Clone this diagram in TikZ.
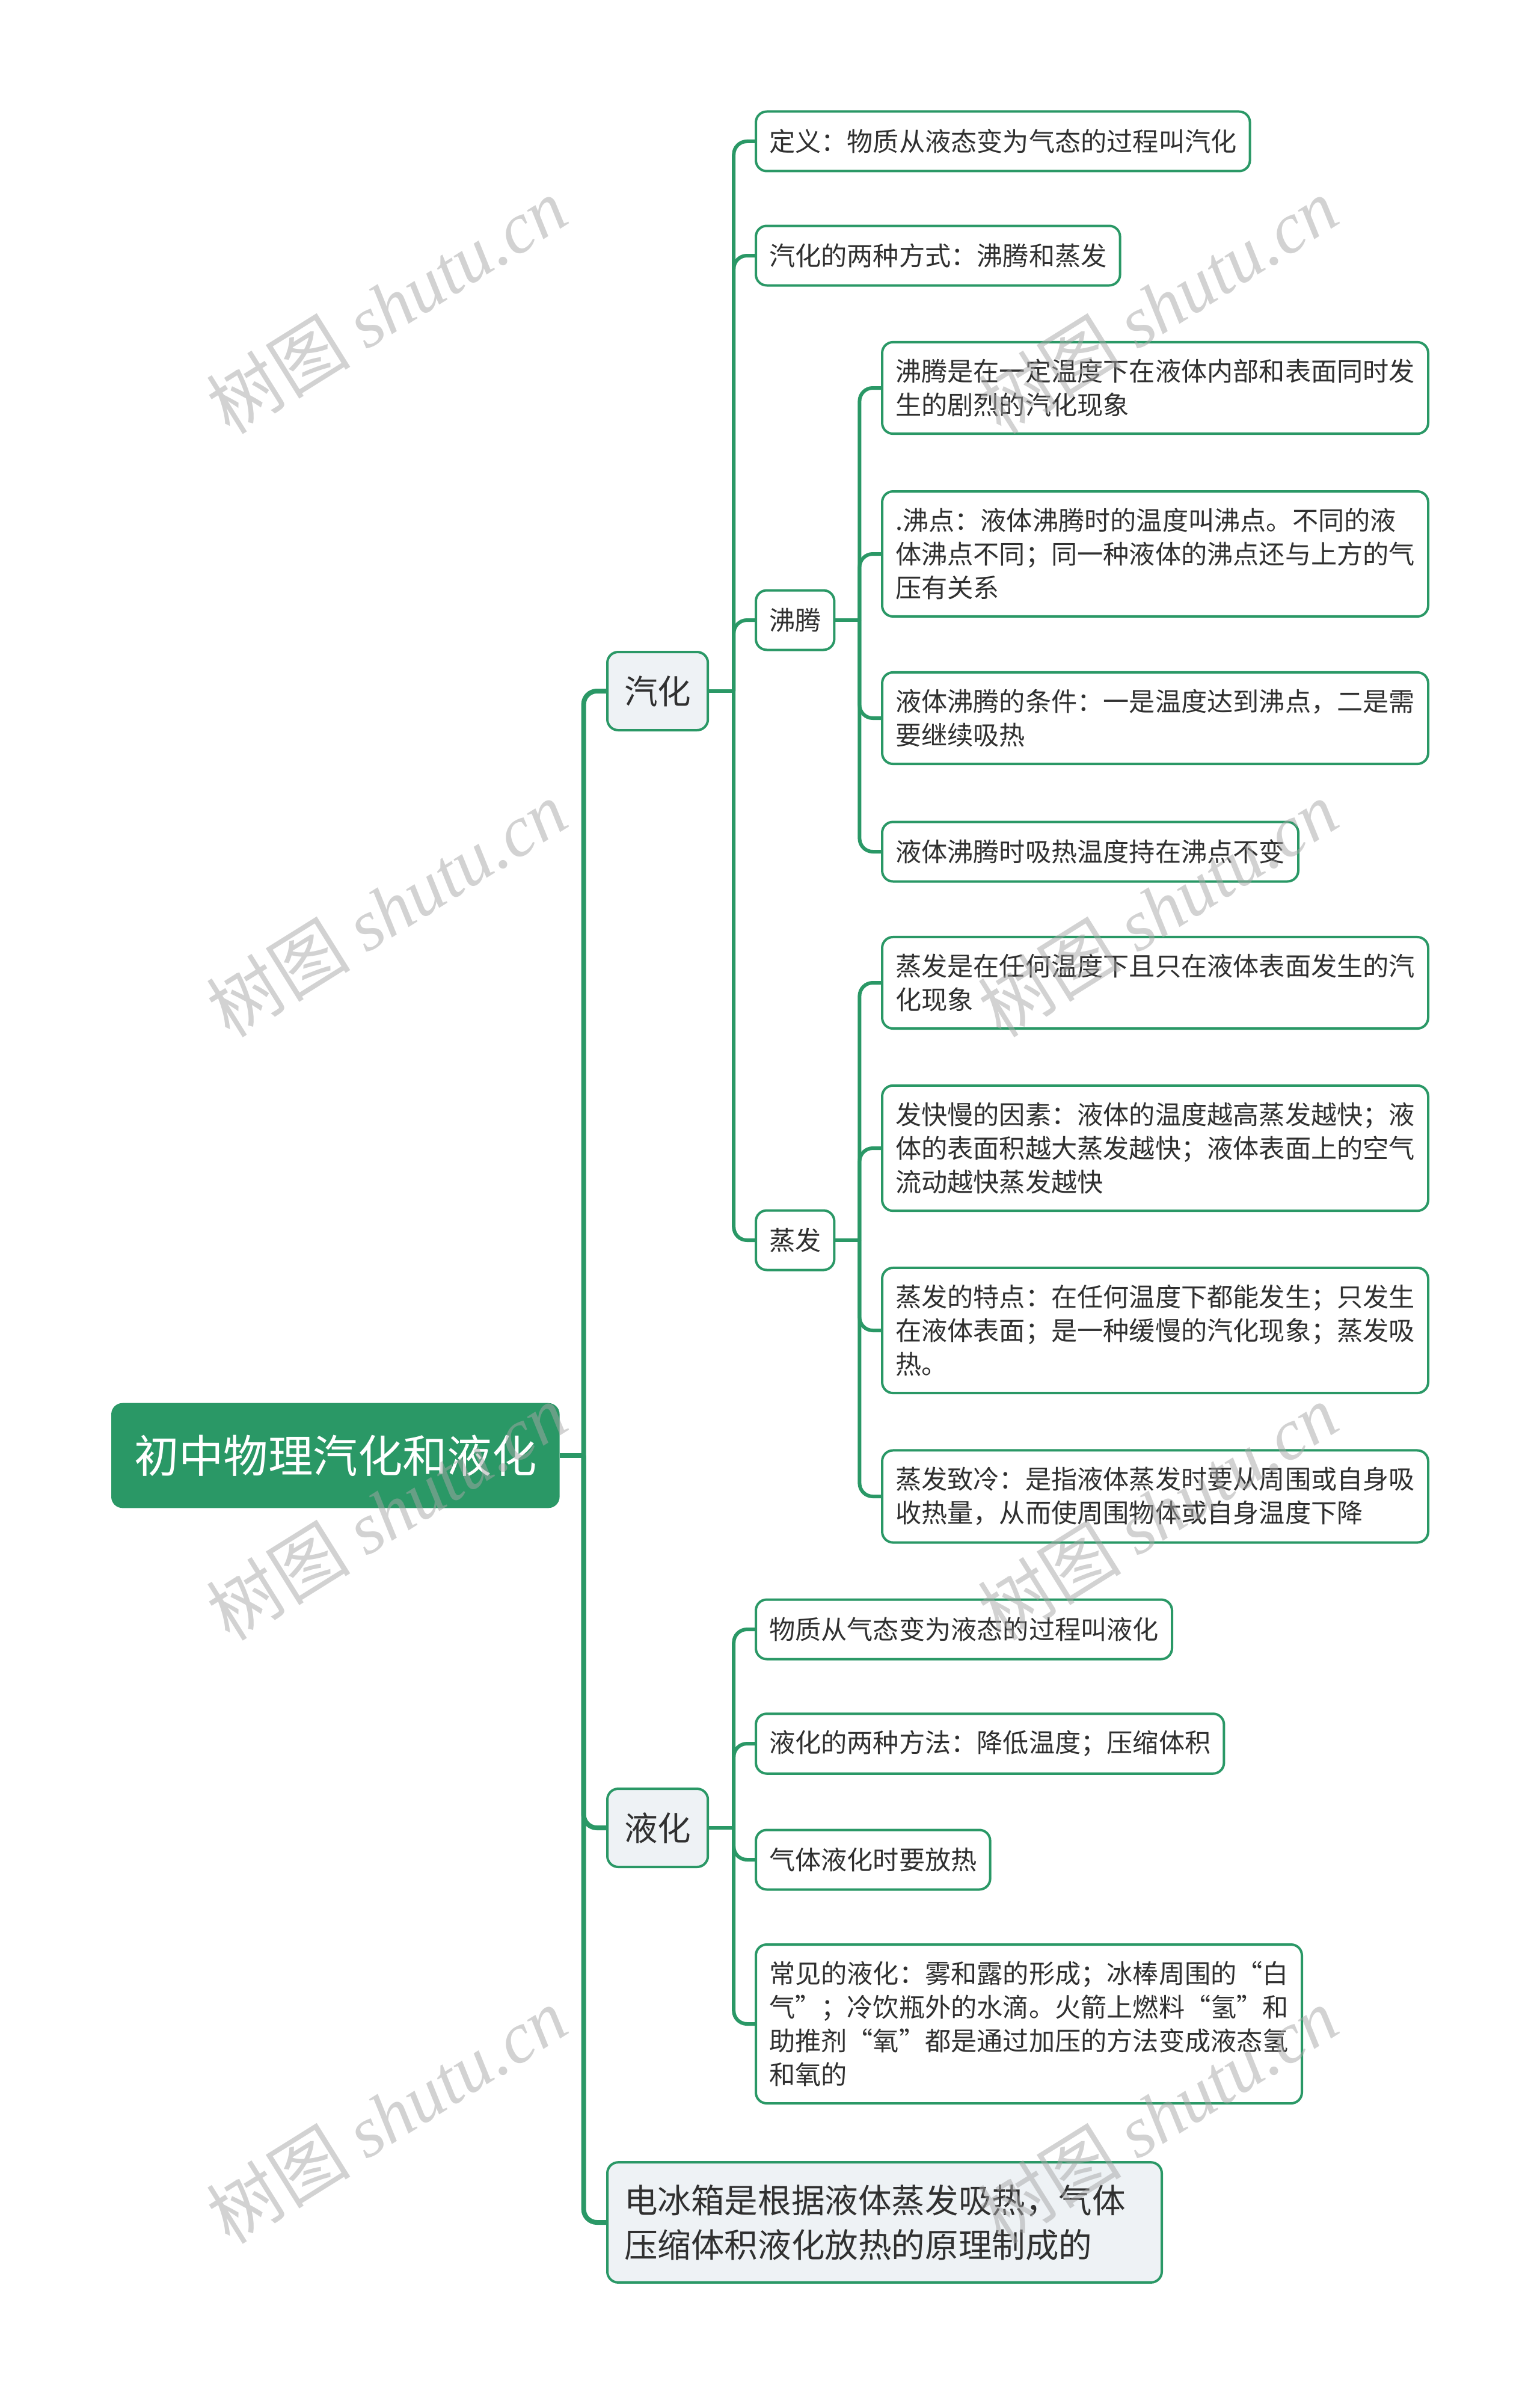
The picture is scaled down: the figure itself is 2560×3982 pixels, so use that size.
\documentclass[tikz,border=0pt]{standalone}
\usepackage{fontspec}
\setmainfont{Noto Sans CJK SC}
\newfontfamily\wmlatin{Liberation Serif}
\definecolor{mapgreen}{HTML}{2A9866}
\definecolor{textgray}{HTML}{303030}
\definecolor{topicfill}{HTML}{EEF2F5}

\begin{document}
\begin{tikzpicture}[x=0.25pt,y=-0.25pt,
  rootbox/.style={draw=mapgreen,fill=mapgreen,rounded corners=4.5pt,text=white,
    font=\fontsize{18.6pt}{24pt}\selectfont,minimum width=186pt,minimum height=43.25pt,anchor=west},
  topicbox/.style={draw=mapgreen,line width=1pt,fill=topicfill,rounded corners=4.5pt,text=textgray,
    font=\fontsize{13.9pt}{18.5pt}\selectfont,inner xsep=7pt,inner ysep=9.25pt,
    minimum height=32.5pt,align=left,anchor=west},
  leafbox/.style={draw=mapgreen,line width=1pt,fill=white,rounded corners=4.5pt,text=textgray,
    font=\fontsize{10.8pt}{14pt}\selectfont,inner xsep=5.5pt,inner ysep=7pt,
    minimum height=24.75pt,align=left,anchor=west},
  link/.style={draw=mapgreen,line width=1.5pt,rounded corners=5.5pt},
  mainlink/.style={link,line width=2pt},
  watermark/.style={text=black!35,opacity=0.5,rotate=32,font=\fontsize{30pt}{30pt}\selectfont}]
\useasboundingbox[fill=white] (0,0) rectangle (2560,3982);

\node[rootbox] (root) at (185,2420) {初中物理汽化和液化};

\node[topicbox] (qh) at (1008,1149) {汽化};
\node[topicbox] (yh) at (1008,3039) {液化};
\node[topicbox,text width=216.5pt] (bx) at (1008,3695) {电冰箱是根据液体蒸发吸热，气体\\压缩体积液化放热的原理制成的};

\node[leafbox] (def) at (1255,235) {定义：物质从液态变为气态的过程叫汽化};
\node[leafbox] (ways) at (1255,425) {汽化的两种方式：沸腾和蒸发};
\node[leafbox] (boil) at (1255,1031) {沸腾};
\node[leafbox] (evap) at (1255,2062) {蒸发};

\node[leafbox] (b1) at (1465,645) {沸腾是在一定温度下在液体内部和表面同时发\\生的剧烈的汽化现象};
\node[leafbox] (b2) at (1465,921) {.沸点：液体沸腾时的温度叫沸点。不同的液\\体沸点不同；同一种液体的沸点还与上方的气\\压有关系};
\node[leafbox] (b3) at (1465,1194) {液体沸腾的条件：一是温度达到沸点，二是需\\要继续吸热};
\node[leafbox] (b4) at (1465,1416) {液体沸腾时吸热温度持在沸点不变};

\node[leafbox] (e1) at (1465,1634) {蒸发是在任何温度下且只在液体表面发生的汽\\化现象};
\node[leafbox] (e2) at (1465,1909) {发快慢的因素：液体的温度越高蒸发越快；液\\体的表面积越大蒸发越快；液体表面上的空气\\流动越快蒸发越快};
\node[leafbox] (e3) at (1465,2212) {蒸发的特点：在任何温度下都能发生；只发生\\在液体表面；是一种缓慢的汽化现象；蒸发吸\\热。};
\node[leafbox] (e4) at (1465,2488) {蒸发致冷：是指液体蒸发时要从周围或自身吸\\收热量，从而使周围物体或自身温度下降};

\node[leafbox] (l1) at (1255,2709) {物质从气态变为液态的过程叫液化};
\node[leafbox] (l2) at (1255,2899) {液化的两种方法：降低温度；压缩体积};
\node[leafbox] (l3) at (1255,3092) {气体液化时要放热};
\node[leafbox] (l4) at (1255,3365) {常见的液化：雾和露的形成；冰棒周围的“白\\气”；冷饮瓶外的水滴。火箭上燃料“氢”和\\助推剂“氧”都是通过加压的方法变成液态氢\\和氧的};

\draw[mainlink] (root.east) -- ++(40,0) coordinate (jroot);
\foreach \c in {qh,yh,bx}
  \draw[mainlink] (jroot) |- (\c.west);

\draw[link] (qh.east) -- ++(41,0) coordinate (jqh);
\foreach \c in {def,ways,boil,evap}
  \draw[link] (jqh) |- (\c.west);

\draw[link] (boil.east) -- ++(40,0) coordinate (jboil);
\foreach \c in {b1,b2,b3,b4}
  \draw[link] (jboil) |- (\c.west);

\draw[link] (evap.east) -- ++(40,0) coordinate (jevap);
\foreach \c in {e1,e2,e3,e4}
  \draw[link] (jevap) |- (\c.west);

\draw[link] (yh.east) -- ++(41,0) coordinate (jyh);
\foreach \c in {l1,l2,l3,l4}
  \draw[link] (jyh) |- (\c.west);

\foreach \i/\x/\y in {1/643/508,2/643/1511,3/643/2514,4/643/3517,5/1925/508,6/1925/1511,7/1925/2514,8/1925/3517}
  \node[watermark] (wm\i) at (\x,\y) {树图 {\wmlatin\itshape shutu.cn}};
\end{tikzpicture}
\end{document}
